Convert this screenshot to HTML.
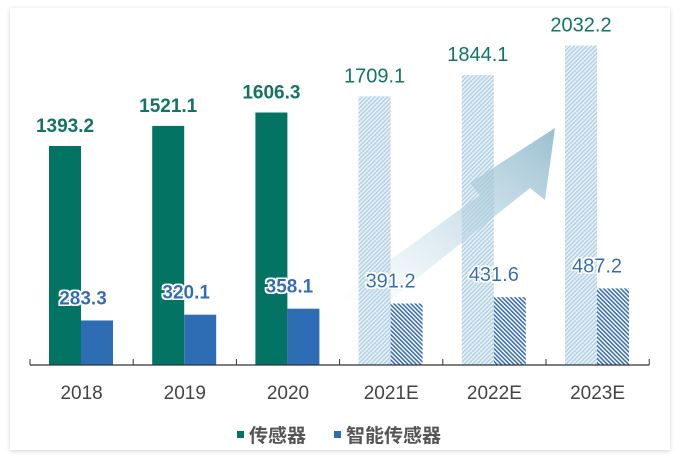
<!DOCTYPE html>
<html><head><meta charset="utf-8"><style>
body{margin:0;background:#fff;width:681px;height:464px;overflow:hidden}
svg{display:block}
text{font-family:"Liberation Sans","Noto Sans CJK SC",sans-serif}
</style></head><body>
<svg width="681" height="464">
<defs>
<filter id="sh" x="-5%" y="-5%" width="110%" height="110%"><feDropShadow dx="0" dy="1" stdDeviation="2" flood-color="#000" flood-opacity="0.18"/></filter>
<pattern id="hg" width="3" height="3" patternUnits="userSpaceOnUse" patternTransform="rotate(45)"><rect width="3" height="3" fill="#e6f0f6"/><rect width="1.2" height="3" fill="#a9cbe0"/></pattern>
<pattern id="hb" width="3" height="3" patternUnits="userSpaceOnUse" patternTransform="rotate(-45)"><rect width="3" height="3" fill="#ffffff"/><rect width="1.6" height="3" fill="#3d6fb0"/></pattern>
<linearGradient id="ag" x1="0" y1="1" x2="1" y2="0"><stop offset="0" stop-color="#cfe3ec" stop-opacity="0"/><stop offset="0.5" stop-color="#b9d5e2" stop-opacity="0.6"/><stop offset="1" stop-color="#8fb8cc" stop-opacity="0.9"/></linearGradient>
<filter id="glow"><feMorphology operator="dilate" radius="1.5" in="SourceAlpha" result="d"/><feFlood flood-color="#fff"/><feComposite in2="d" operator="in" result="w"/><feMerge><feMergeNode in="w"/><feMergeNode in="SourceGraphic"/></feMerge></filter>
</defs>
<rect x="10" y="8" width="660" height="442" fill="#fff" filter="url(#sh)"/>
<g id="bars"></g>
<g id="labels"></g>
<g>
<rect x="237" y="431" width="7" height="7" fill="#037463"/>
<text x="249" y="442" font-size="19" font-weight="bold" fill="#555">传感器</text>
<rect x="334" y="431" width="7" height="7" fill="#2e6db4"/>
<text x="346" y="442" font-size="19" font-weight="bold" fill="#555">智能传感器</text>
</g>
</svg>
<script>
const categories=["2018","2019","2020","2021E","2022E","2023E"];
const sensorValues=[1393.2,1521.1,1606.3,1709.1,1844.1,2032.2];
const smartValues=[283.3,320.1,358.1,391.2,431.6,487.2];
const forecast=[false,false,false,true,true,true];
const NS="http://www.w3.org/2000/svg";
const x0=30,catW=103.2,baseY=365,k=219/1393.2,bw=32;
const xCat=i=>x0+i*catW;
const yv=v=>baseY-v*k;
const svg=document.querySelector('svg'),bars=document.getElementById('bars'),labels=document.getElementById('labels');
function mk(tag,attrs,parent){const e=document.createElementNS(NS,tag);for(const a in attrs)e.setAttribute(a,attrs[a]);parent.appendChild(e);return e;}
categories.forEach((c,i)=>{
 const gx=xCat(i)+19,bx=gx+bw;
 const g=mk('rect',{x:gx,y:yv(sensorValues[i]),width:bw,height:baseY-yv(sensorValues[i]),fill:forecast[i]?'url(#hg)':'#037463'},bars);
 
 
 const b=mk('rect',{x:bx,y:yv(smartValues[i]),width:bw,height:baseY-yv(smartValues[i]),fill:forecast[i]?'url(#hb)':'#2e6db4'},bars);
 
 
 const t1=mk('text',{x:gx+bw/2,y:yv(sensorValues[i])-14,'font-size':forecast[i]?20:19,'font-weight':forecast[i]?'normal':'bold',fill:'#137463','text-anchor':'middle'},labels);
 t1.textContent=sensorValues[i].toFixed(1);
 
 
 const t2=mk('text',{x:bx+(forecast[i]?0:2),y:yv(smartValues[i])-16,'font-size':forecast[i]?20:19,'font-weight':forecast[i]?'normal':'bold',fill:'#2e6db4','text-anchor':'middle',filter:'url(#glow)'},labels);
 t2.textContent=smartValues[i].toFixed(1);
 
 
 const xl=mk('text',{x:xCat(i)+catW/2,y:399,'font-size':19,fill:'#444','text-anchor':'middle'},svg);
 xl.textContent=c;
 
 
});
const arrow=mk('polygon',{points:'335,300 480,195 470,183 555,128 545,200 530,188 390,300',fill:'url(#ag)'},svg);


svg.insertBefore(arrow,labels);
const ax=mk('line',{x1:x0,y1:baseY,x2:xCat(6),y2:baseY,stroke:'#333','stroke-width':1.2},svg);


for(let i=0;i<=6;i++){const t=mk('line',{x1:xCat(i),y1:baseY,x2:xCat(i),y2:baseY-6,stroke:'#333'},svg);

}
</script>
</body></html>
